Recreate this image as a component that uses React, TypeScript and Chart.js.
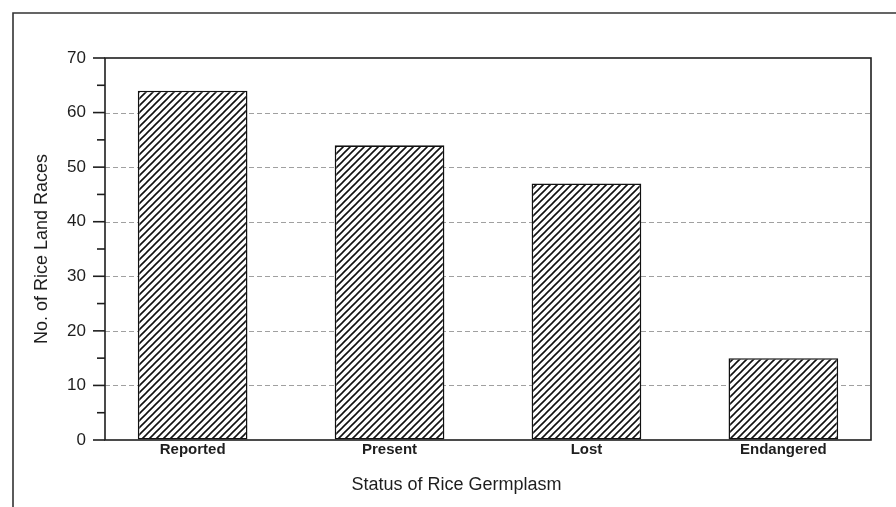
import React, { useEffect, useRef } from 'react';
import { Chart, registerables } from 'chart.js';

Chart.register(...registerables);

// ---- data ----
const categories = ['Reported', 'Present', 'Lost', 'Endangered'];
const landRaces = [64, 54, 47, 15];
const yTicks = [0, 10, 20, 30, 40, 50, 60, 70];
const yMinorTicks = [5, 15, 25, 35, 45, 55, 65];
const xTitle = 'Status of Rice Germplasm';
const yTitle = 'No. of Rice Land Races';

const FONT = '"Liberation Sans", Arial, Helvetica, sans-serif';
const INK = '#1e1e1e';

function makeHatch(): CanvasPattern | string {
  const size = 7;
  const c = document.createElement('canvas');
  c.width = size;
  c.height = size;
  const g = c.getContext('2d');
  if (!g) return '#fff';
  g.fillStyle = '#ffffff';
  g.fillRect(0, 0, size, size);
  g.strokeStyle = '#111';
  g.lineWidth = 1.6;
  g.beginPath();
  g.moveTo(-1, size + 1);
  g.lineTo(size + 1, -1);
  g.moveTo(-1, 1);
  g.lineTo(1, -1);
  g.moveTo(size - 1, size + 1);
  g.lineTo(size + 1, size - 1);
  g.stroke();
  return g.createPattern(c, 'repeat') || '#fff';
}

const framePlugin = {
  id: 'paperFrame',
  beforeDatasetsDraw(chart: any) {
    const { ctx, chartArea: a, scales } = chart;
    const y = scales.y;
    ctx.save();
    ctx.strokeStyle = '#a0a0a0';
    ctx.lineWidth = 1;
    ctx.setLineDash([5, 3]);
    yTicks.forEach((v) => {
      if (v > y.min && v < y.max) {
        const py = Math.round(y.getPixelForValue(v)) + 0.5;
        ctx.beginPath();
        ctx.moveTo(a.left, py);
        ctx.lineTo(a.right, py);
        ctx.stroke();
      }
    });
    ctx.restore();
  },
  afterDatasetsDraw(chart: any) {
    const { ctx, chartArea: a, scales, width, height } = chart;
    const y = scales.y;
    ctx.save();
    // plot frame
    ctx.strokeStyle = INK;
    ctx.lineWidth = 1.6;
    ctx.strokeRect(a.left, a.top, a.right - a.left, a.bottom - a.top);
    // major ticks
    yTicks.forEach((v) => {
      const py = y.getPixelForValue(v);
      ctx.beginPath();
      ctx.moveTo(a.left - 12, py);
      ctx.lineTo(a.left, py);
      ctx.stroke();
    });
    // minor ticks
    yMinorTicks.forEach((v) => {
      const py = y.getPixelForValue(v);
      ctx.beginPath();
      ctx.moveTo(a.left - 8, py);
      ctx.lineTo(a.left, py);
      ctx.stroke();
    });
    // outer page frame
    const edge = 13;
    ctx.strokeStyle = '#333';
    ctx.lineWidth = 1.6;
    ctx.beginPath();
    ctx.moveTo(edge, height);
    ctx.lineTo(edge, edge);
    ctx.lineTo(width, edge);
    ctx.stroke();
    // x axis title (centred on the page frame)
    ctx.fillStyle = INK;
    ctx.font = `18px ${FONT}`;
    ctx.textAlign = 'center';
    ctx.textBaseline = 'middle';
    ctx.fillText(xTitle, (edge + width) / 2 + 2, height - 22);
    ctx.restore();
  },
};

export default function App() {
  const ref = useRef<HTMLCanvasElement | null>(null);

  useEffect(() => {
    if (!ref.current) return;
    const hatch = makeHatch();
    const chart = new Chart(ref.current, {
      type: 'bar',
      data: {
        datasets: [
          {
            label: yTitle,
            data: landRaces.map((v, i) => ({ x: i, y: v })),
            backgroundColor: hatch as any,
            borderColor: '#111',
            borderWidth: 1.6,
            borderSkipped: false,
            categoryPercentage: 1,
            barPercentage: 0.557,
          },
        ],
      },
      options: {
        responsive: false,
        animation: false,
        layout: { padding: { top: 58, right: 25, left: 0, bottom: 0 } },
        plugins: {
          legend: { display: false },
          tooltip: { enabled: false },
        },
        scales: {
          x: {
            type: 'linear',
            offset: false,
            min: -0.445,
            max: 3.445,
            afterFit: (s: any) => {
              s.height = 67;
            },
            afterBuildTicks: (s: any) => {
              s.ticks = categories.map((_, i) => ({ value: i }));
            },
            grid: { display: false, drawTicks: false, offset: false },
            border: { display: false },
            ticks: {
              autoSkip: false,
              maxRotation: 0,
              padding: 1,
              color: INK,
              font: { family: FONT, size: 15, weight: 'bold' },
              callback: (v: any) => categories[Math.round(Number(v))] ?? '',
            },
          },
          y: {
            min: 0,
            max: 70,
            afterFit: (s: any) => {
              s.width = 105;
            },
            afterBuildTicks: (s: any) => {
              s.ticks = yTicks.map((v) => ({ value: v }));
            },
            grid: { color: 'rgba(0,0,0,0)', tickColor: 'rgba(0,0,0,0)', tickLength: 12, drawTicks: true },
            border: { display: false },
            ticks: {
              padding: 7,
              color: INK,
              font: { family: FONT, size: 17 },
            },
            title: {
              display: true,
              text: yTitle,
              color: INK,
              font: { family: FONT, size: 18 },
              padding: { top: 31, bottom: 0 },
            },
          },
        },
      } as any,
      plugins: [framePlugin],
    });
    return () => chart.destroy();
  }, []);

  return (
    <div style={{ position: 'absolute', left: 0, top: 0, width: 896, height: 507, background: '#fff' }}>
      <canvas ref={ref} width={896} height={507} />
    </div>
  );
}
